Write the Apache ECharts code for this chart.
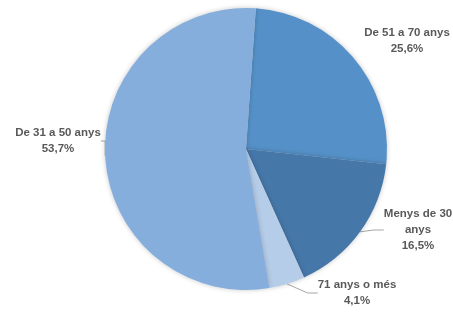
<!DOCTYPE html>
<html>
<head>
<meta charset="utf-8">
<script src="https://cdn.jsdelivr.net/npm/echarts@6/dist/echarts.min.js"></script>
<style>
  html, body { margin: 0; padding: 0; background: #fff; }
  #main { width: 453px; height: 312px; }
</style>
</head>
<body>
<div id="main"></div>
<script>
// grups d'edat, en l'ordre del gràfic (sentit horari des de dalt)
var categories = ['De 51 a 70 anys', 'Menys de 30\nanys', '71 anys o més', 'De 31 a 50 anys'];
var values = [25.6, 16.5, 4.1, 53.7];
var colors = ['#5591c8', '#4677a9', '#b6cde9', '#85aedc'];

// on va cada etiqueta (centre del text)
var labelPos = [[407, 41], [418, 230], [357, 293], [58, 141]];

var chart = echarts.init(document.getElementById('main'));

var data = [];
for (var i = 0; i < categories.length; i++) {
  data.push({
    name: categories[i],
    value: values[i],
    itemStyle: { color: colors[i] },
    labelLine: { show: i !== 0 }
  });
}

chart.setOption({
  animation: false,
  series: [{
    type: 'pie',
    center: [246, 149],
    radius: 141,
    startAngle: 86,
    clockwise: true,
    avoidLabelOverlap: false,
    data: data,
    itemStyle: {
      borderWidth: 0,
      shadowBlur: 5,
      shadowColor: 'rgba(0,0,0,0.22)'
    },
    label: {
      show: true,
      position: 'outside',
      color: '#595959',
      fontFamily: 'Liberation Sans',
      fontWeight: 'bold',
      fontSize: 11.5,
      lineHeight: 16,
      align: 'center',
      formatter: function (p) {
        return p.name + '\n' + p.value.toFixed(1).replace('.', ',') + '%';
      }
    },
    labelLine: {
      show: true,
      length: 10,
      length2: 10,
      lineStyle: { color: '#a6a6a6', width: 1 }
    },
    labelLayout: function (p) {
      var pos = labelPos[p.dataIndex];
      return { x: pos[0], y: pos[1], align: 'center', verticalAlign: 'middle' };
    }
  }]
});
</script>
</body>
</html>
